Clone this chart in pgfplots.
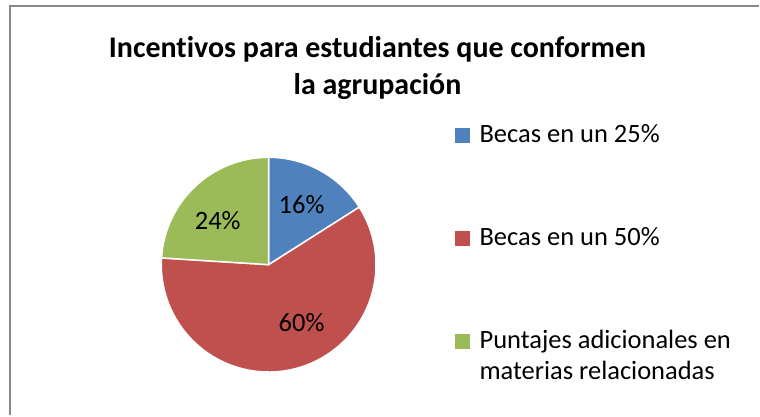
\documentclass[border=0pt]{standalone}
\usepackage{fontspec}
\setmainfont{Carlito}[Ligatures={NoCommon}]
\usepackage{pgfplots}
\pgfplotsset{compat=1.18}

\definecolor{sBlue}{HTML}{4F81BD}
\definecolor{sRed}{HTML}{C0504D}
\definecolor{sGreen}{HTML}{9BBB59}
\definecolor{frame}{HTML}{888888}

\begin{document}
\begin{tikzpicture}
\begin{axis}[
  width=760bp, height=416bp, scale only axis,
  xmin=0, xmax=760, ymin=0, ymax=416, y dir=reverse,
  hide axis, clip=false,
]
% invisible anchor points so the axis keeps its full range
\addplot[draw=none] coordinates {(0,0) (760,416)};
% frame (only left and top edges are visible in the reference)
\draw[frame, line width=2bp] (axis cs:10.5,416) -- (axis cs:10.5,6.5) -- (axis cs:760,6.5);

% title
\begin{scope}[every node/.style={font=\fontsize{30bp}{36bp}\selectfont\bfseries, anchor=base, inner sep=0pt}]
\node at (axis cs:378,57.5) {Incentivos para estudiantes que conformen};
\node at (axis cs:378,95) {la agrupación};
\end{scope}

% pie: 16, 60, 24 (%), starting at 12 o'clock, clockwise
\def\cx{269}\def\cy{265}\def\r{107.5bp}
\fill[sBlue, draw=white, line width=1.5bp] (axis cs:\cx,\cy) -- ++(90:\r)
  arc[start angle=90, end angle=32.4, radius=\r] -- cycle;
\fill[sRed, draw=white, line width=1.5bp] (axis cs:\cx,\cy) -- ++(32.4:\r)
  arc[start angle=32.4, end angle=-183.6, radius=\r] -- cycle;
\fill[sGreen, draw=white, line width=1.5bp] (axis cs:\cx,\cy) -- ++(-183.6:\r)
  arc[start angle=-183.6, end angle=-270, radius=\r] -- cycle;

\begin{scope}[every node/.style={font=\fontsize{26.5bp}{31bp}\selectfont}]
\node at (axis cs:302,205) {16\%};
\node at (axis cs:302,323) {60\%};
\node at (axis cs:218,221) {24\%};

% legend
\fill[sBlue]  (axis cs:456,128) rectangle (axis cs:471,143);
\fill[sRed]   (axis cs:456,231) rectangle (axis cs:471,246);
\fill[sGreen] (axis cs:456,334) rectangle (axis cs:471,349);
\node[anchor=base west, inner sep=0pt] at (axis cs:480,143) {Becas en un 25\%};
\node[anchor=base west, inner sep=0pt] at (axis cs:480,246) {Becas en un 50\%};
\node[anchor=base west, inner sep=0pt] at (axis cs:480,349) {Puntajes adicionales en};
\node[anchor=base west, inner sep=0pt] at (axis cs:480,380) {materias relacionadas};
\end{scope}
\end{axis}
\end{tikzpicture}
\end{document}
